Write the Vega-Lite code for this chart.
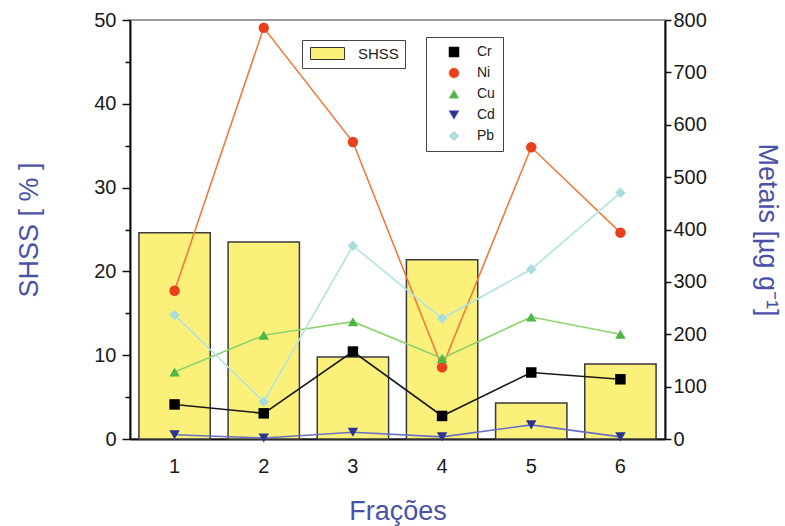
{
  "$schema": "https://vega.github.io/schema/vega-lite/v6.json",
  "width": 535,
  "height": 419,
  "autosize": "none",
  "padding": {"left": 130, "top": 20, "right": 120, "bottom": 87},
  "background": "white",
  "config": {
    "font": "Liberation Sans",
    "view": {"stroke": "#9a9a9a", "strokeWidth": 2},
    "axis": {
      "labelFont": "Liberation Sans",
      "titleFont": "Liberation Sans",
      "labelFontSize": 20,
      "labelColor": "#1a1a1a",
      "titleColor": "#4a52a8",
      "titleFontSize": 27,
      "titleFontWeight": "normal",
      "domainColor": "#111111",
      "domainWidth": 2,
      "tickColor": "#111111",
      "tickWidth": 1.5,
      "grid": false
    },
    "legend": {"labelFont": "Liberation Sans", "labelFontSize": 14, "labelColor": "#222222"}
  },
  "datasets": {
    "shss": [
      {"fracao": "1", "SHSS": 24.6},
      {"fracao": "2", "SHSS": 23.5},
      {"fracao": "3", "SHSS": 9.8},
      {"fracao": "4", "SHSS": 21.4},
      {"fracao": "5", "SHSS": 4.3},
      {"fracao": "6", "SHSS": 8.95}
    ],
    "metais": [
      {"fracao": "1", "metal": "Cr", "valor": 66},
      {"fracao": "2", "metal": "Cr", "valor": 49},
      {"fracao": "3", "metal": "Cr", "valor": 167},
      {"fracao": "4", "metal": "Cr", "valor": 44},
      {"fracao": "5", "metal": "Cr", "valor": 127},
      {"fracao": "6", "metal": "Cr", "valor": 114},
      {"fracao": "1", "metal": "Ni", "valor": 283},
      {"fracao": "2", "metal": "Ni", "valor": 785},
      {"fracao": "3", "metal": "Ni", "valor": 567},
      {"fracao": "4", "metal": "Ni", "valor": 137},
      {"fracao": "5", "metal": "Ni", "valor": 557},
      {"fracao": "6", "metal": "Ni", "valor": 394},
      {"fracao": "1", "metal": "Cu", "valor": 128},
      {"fracao": "2", "metal": "Cu", "valor": 198},
      {"fracao": "3", "metal": "Cu", "valor": 224},
      {"fracao": "4", "metal": "Cu", "valor": 154},
      {"fracao": "5", "metal": "Cu", "valor": 233},
      {"fracao": "6", "metal": "Cu", "valor": 200},
      {"fracao": "1", "metal": "Cd", "valor": 8},
      {"fracao": "2", "metal": "Cd", "valor": 2},
      {"fracao": "3", "metal": "Cd", "valor": 13},
      {"fracao": "4", "metal": "Cd", "valor": 4},
      {"fracao": "5", "metal": "Cd", "valor": 27},
      {"fracao": "6", "metal": "Cd", "valor": 4},
      {"fracao": "1", "metal": "Pb", "valor": 237},
      {"fracao": "2", "metal": "Pb", "valor": 71},
      {"fracao": "3", "metal": "Pb", "valor": 369},
      {"fracao": "4", "metal": "Pb", "valor": 230},
      {"fracao": "5", "metal": "Pb", "valor": 324},
      {"fracao": "6", "metal": "Pb", "valor": 470}
    ]
  },
  "encoding": {
    "x": {
      "field": "fracao",
      "type": "ordinal",
      "scale": {"paddingInner": 0.2, "paddingOuter": 0.1},
      "axis": {"title": "Frações", "labelAngle": 0, "ticks": false, "labelPadding": 17, "titlePadding": 22}
    }
  },
  "layer": [
    {
      "data": {"name": "shss"},
      "mark": {"type": "bar", "stroke": "#3a3a3a", "strokeWidth": 1.5},
      "encoding": {
        "y": {
          "field": "SHSS",
          "type": "quantitative",
          "scale": {"domain": [0, 50], "nice": false, "zero": true},
          "axis": {
            "orient": "left",
            "title": "SHSS [ % ]",
            "values": [0, 5, 10, 15, 20, 25, 30, 35, 40, 45, 50],
            "labelExpr": "datum.value % 10 === 0 ? datum.label : ''",
            "tickSize": {"condition": {"test": "datum.value % 10 === 0", "value": 8}, "value": 5},
            "labelPadding": 6,
            "titlePadding": 50
          }
        },
        "fill": {
          "datum": "SHSS",
          "scale": {"domain": ["SHSS"], "range": ["#fbf07a"]},
          "legend": {
            "title": null,
            "orient": "none",
            "legendX": 172,
            "legendY": 20,
            "strokeColor": "#444444",
            "fillColor": "white",
            "padding": 6,
            "symbolType": "M-3.4,-1.2H3.4V1.2H-3.4Z",
            "symbolSize": 100,
            "symbolOffset": 12,
            "labelOffset": 23,
            "labelFontSize": 15,
            "symbolStrokeColor": "#333333",
            "symbolStrokeWidth": 1
          }
        }
      }
    },
    {
      "data": {"name": "metais"},
      "layer": [
        {
          "mark": {"type": "line", "strokeWidth": 1.6},
          "encoding": {
            "y": {
              "field": "valor",
              "type": "quantitative",
              "scale": {"domain": [0, 800], "nice": false},
              "axis": {
                "orient": "right",
                "title": "Metais  [µg g⁻¹]",
                "values": [0, 50, 100, 150, 200, 250, 300, 350, 400, 450, 500, 550, 600, 650, 700, 750, 800],
                "labelExpr": "datum.value % 100 === 0 ? datum.label : ''",
                "tickSize": {"condition": {"test": "datum.value % 100 === 0", "value": 6}, "value": 4},
                "labelPadding": 2,
                "titlePadding": 46
              }
            },
            "stroke": {
              "field": "metal",
              "type": "nominal",
              "scale": {"domain": ["Cr", "Ni", "Cu", "Cd", "Pb"], "range": ["#1a1a1a", "#f07a3c", "#8ed46e", "#6a70c0", "#b0e4e4"]},
              "legend": {
                "title": null,
                "orient": "none",
                "legendX": 296,
                "legendY": 17,
                "strokeColor": "#444444",
                "fillColor": "white",
                "padding": 8,
                "rowPadding": 7,
                "symbolSize": 100,
                "symbolOffset": 13,
                "labelOffset": 16,
                "labelFontSize": 14,
                "symbolStrokeWidth": 0.6
              }
            }
          }
        },
        {
          "mark": {"type": "point", "filled": true, "size": 110, "opacity": 1},
          "encoding": {
            "y": {"field": "valor", "type": "quantitative"},
            "color": {
              "field": "metal",
              "type": "nominal",
              "scale": {"domain": ["Cr", "Ni", "Cu", "Cd", "Pb"], "range": ["#000000", "#e8401c", "#4db848", "#2b3590", "#a8dede"]},
              "legend": {
                "title": null,
                "orient": "none",
                "legendX": 296,
                "legendY": 17,
                "strokeColor": "#444444",
                "fillColor": "white",
                "padding": 8,
                "rowPadding": 7,
                "symbolSize": 100,
                "symbolOffset": 13,
                "labelOffset": 16,
                "labelFontSize": 14,
                "symbolStrokeWidth": 0.6
              }
            },
            "shape": {
              "field": "metal",
              "type": "nominal",
              "scale": {"domain": ["Cr", "Ni", "Cu", "Cd", "Pb"], "range": ["square", "circle", "triangle-up", "triangle-down", "diamond"]},
              "legend": {
                "title": null,
                "orient": "none",
                "legendX": 296,
                "legendY": 17,
                "strokeColor": "#444444",
                "fillColor": "white",
                "padding": 8,
                "rowPadding": 7,
                "symbolSize": 100,
                "symbolOffset": 13,
                "labelOffset": 16,
                "labelFontSize": 14,
                "symbolStrokeWidth": 0.6
              }
            }
          }
        }
      ]
    }
  ],
  "resolve": {"scale": {"y": "independent"}}
}
